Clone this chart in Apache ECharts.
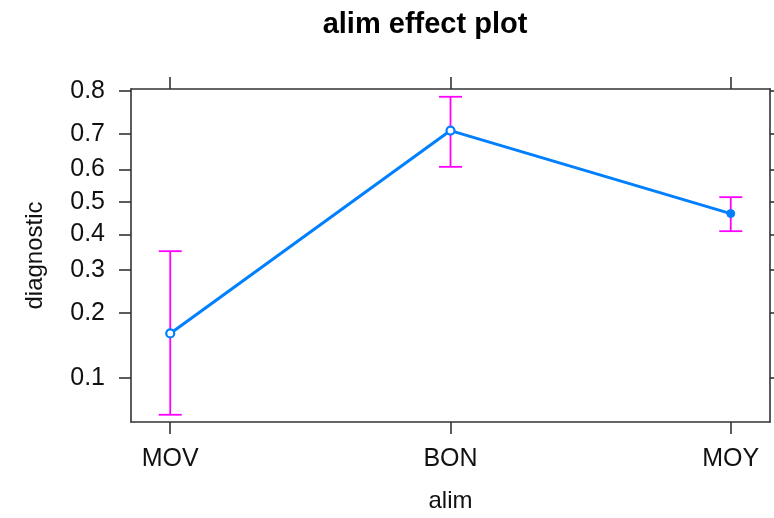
<!DOCTYPE html>
<html>
<head>
<meta charset="utf-8">
<script src="https://cdn.jsdelivr.net/npm/echarts@6/dist/echarts.min.js"></script>
<style>html,body{margin:0;padding:0;background:#fff}#c{width:774px;height:518px}</style>
</head>
<body>
<div id="c"></div>
<script>
const categories = ['MOV', 'BON', 'MOY'];
const fit = [0.162, 0.709, 0.4635];
const lower = [0.0654, 0.6077, 0.4095];
const upper = [0.3507, 0.788, 0.5147];
const yTicks = [0.1, 0.2, 0.3, 0.4, 0.5, 0.6, 0.7, 0.8];

const logit = p => Math.log(p / (1 - p));
const invlogit = v => 1 / (1 + Math.exp(-v));
const yTickPos = yTicks.map(logit);
const xTickPos = categories.map((c, i) => i);
const FONT = 'Liberation Sans';

const axisLineStyle = {show: true, onZero: false, lineStyle: {color: '#333', width: 1.6}};
const tickStyle = {show: true, inside: false, length: 12, lineStyle: {color: '#333', width: 1.6}};

const chart = echarts.init(document.getElementById('c'));
chart.setOption({
  animation: false,
  title: {
    text: 'alim effect plot', left: 420, top: 5, textAlign: 'center',
    textStyle: {fontFamily: FONT, fontSize: 29, fontWeight: 'bold', color: '#000'}
  },
  grid: {left: 131, right: 4, top: 89, bottom: 96},
  xAxis: [{
    type: 'value', position: 'bottom', min: -0.14, max: 2.14,
    axisLine: axisLineStyle, splitLine: {show: false},
    axisTick: Object.assign({customValues: xTickPos}, tickStyle),
    axisLabel: {customValues: xTickPos, margin: 25, fontFamily: FONT, fontSize: 25, color: '#111',
      formatter: v => categories[Math.round(v)]},
    name: 'alim', nameLocation: 'middle', nameGap: 67,
    nameTextStyle: {fontFamily: FONT, fontSize: 24, color: '#111'}
  }, {
    type: 'value', position: 'top', min: -0.14, max: 2.14,
    axisLine: axisLineStyle, splitLine: {show: false},
    axisTick: Object.assign({customValues: xTickPos}, tickStyle),
    axisLabel: {show: false}
  }],
  yAxis: [{
    type: 'value', position: 'left', min: -2.75, max: 1.41,
    axisLine: axisLineStyle, splitLine: {show: false},
    axisTick: Object.assign({customValues: yTickPos}, tickStyle),
    axisLabel: {customValues: yTickPos, margin: 26, fontFamily: FONT, fontSize: 25, color: '#111',
      formatter: v => String(Math.round(invlogit(v) * 10) / 10)},
    name: 'diagnostic', nameLocation: 'middle', nameGap: 84, nameRotate: 90,
    nameTextStyle: {fontFamily: FONT, fontSize: 24, color: '#111'}
  }, {
    type: 'value', position: 'right', min: -2.75, max: 1.41,
    axisLine: axisLineStyle, splitLine: {show: false},
    axisTick: Object.assign({customValues: yTickPos}, tickStyle),
    axisLabel: {show: false}
  }],
  series: [{
    type: 'custom', xAxisIndex: 0, yAxisIndex: 0, z: 2,
    data: categories.map((c, i) => [i, logit(lower[i]), logit(upper[i])]),
    renderItem: function (params, api) {
      const x = api.value(0);
      const lo = api.coord([x, api.value(1)]);
      const hi = api.coord([x, api.value(2)]);
      const hw = 11.5;
      const st = {stroke: '#ff00ff', lineWidth: 1.8};
      return {type: 'group', children: [
        {type: 'line', shape: {x1: lo[0], y1: lo[1], x2: hi[0], y2: hi[1]}, style: st},
        {type: 'line', shape: {x1: lo[0] - hw, y1: lo[1], x2: lo[0] + hw, y2: lo[1]}, style: st},
        {type: 'line', shape: {x1: hi[0] - hw, y1: hi[1], x2: hi[0] + hw, y2: hi[1]}, style: st}
      ]};
    }
  }, {
    type: 'line', xAxisIndex: 0, yAxisIndex: 0, z: 5,
    data: categories.map((c, i) => ({
      value: [i, logit(fit[i])],
      itemStyle: i < 2 ? {color: '#ffffff', borderColor: '#0080ff', borderWidth: 2.2} : {color: '#0080ff', borderColor: '#0080ff', borderWidth: 1}
    })),
    lineStyle: {color: '#0080ff', width: 3},
    symbol: 'circle', symbolSize: 8,
    itemStyle: {color: '#0080ff'}
  }]
});
</script>
</body>
</html>
